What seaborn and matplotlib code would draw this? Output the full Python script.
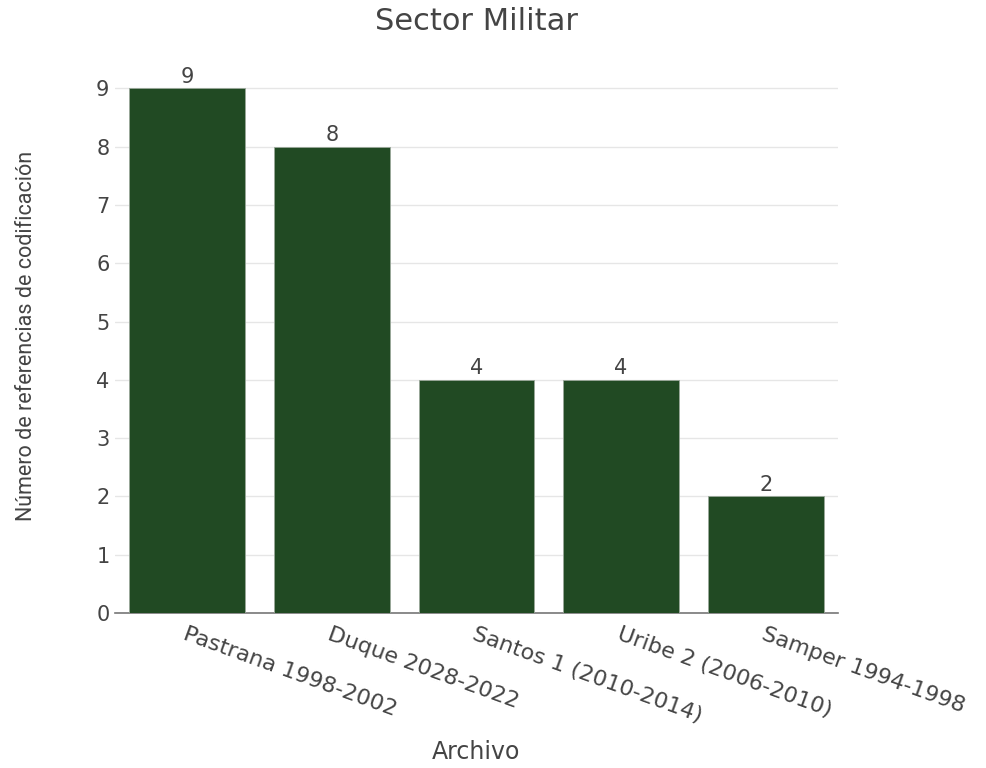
import matplotlib
matplotlib.use("Agg")
import matplotlib.pyplot as plt
import seaborn as sns
import pandas as pd

categories = ["Pastrana 1998-2002", "Duque 2028-2022", "Santos 1 (2010-2014)",
              "Uribe 2 (2006-2010)", "Samper 1994-1998"]
values = [9, 8, 4, 4, 2]
yticks = [0, 1, 2, 3, 4, 5, 6, 7, 8, 9]

title = "Sector Militar"
xlabel = "Archivo"
ylabel = "Número de referencias de codificación"

bar_color = "#214a23"
text_color = "#444444"

sns.set_theme(style="white")
plt.rcParams["font.family"] = ["DejaVu Sans"]

df = pd.DataFrame({"Archivo": categories, "Valor": values})

fig = plt.figure(figsize=(9.87, 7.68), dpi=100)
ax = fig.add_axes([115 / 987, 1 - 613 / 768, 723 / 987, 552 / 768])

sns.barplot(data=df, x="Archivo", y="Valor", color=bar_color, width=0.8,
            saturation=1, edgecolor="#9aa89a", linewidth=0.6, ax=ax, zorder=3)

ax.set_xlim(-0.5, 4.5)
ax.set_ylim(0, 9.47)
ax.set_yticks(yticks)
ax.yaxis.grid(True, color="#e6e6e6", linewidth=1, zorder=0)
ax.xaxis.grid(False)
ax.set_axisbelow(True)

for s in ["left", "top", "right"]:
    ax.spines[s].set_visible(False)
ax.spines["bottom"].set_color("#777777")
ax.spines["bottom"].set_linewidth(1.2)

ax.tick_params(axis="y", length=0, pad=4, labelsize=15, labelcolor=text_color)
ax.tick_params(axis="x", length=0, pad=8, labelsize=16, labelcolor=text_color)
ax.set_xticks(range(len(categories)))
ax.set_xticklabels(categories, rotation=-20, ha="left", va="top",
                   rotation_mode="anchor")

for c in ax.containers:
    ax.bar_label(c, labels=[str(v) for v in values], padding=1,
                 fontsize=15, color=text_color)

ax.set_xlabel(xlabel, fontsize=17, color=text_color)
ax.xaxis.set_label_coords(0.5, -0.252)
ax.xaxis.label.set_va("center")

ax.set_ylabel(ylabel, fontsize=15.5, color=text_color,
              family=["Roboto", "DejaVu Sans"])
ax.yaxis.set_label_coords(-0.122, 0.502)
ax.yaxis.label.set_va("center")

ax.text(0.5, 1.072, title, transform=ax.transAxes, ha="center", va="center",
        fontsize=22, color=text_color)

fig.savefig("out.png", dpi=100)
